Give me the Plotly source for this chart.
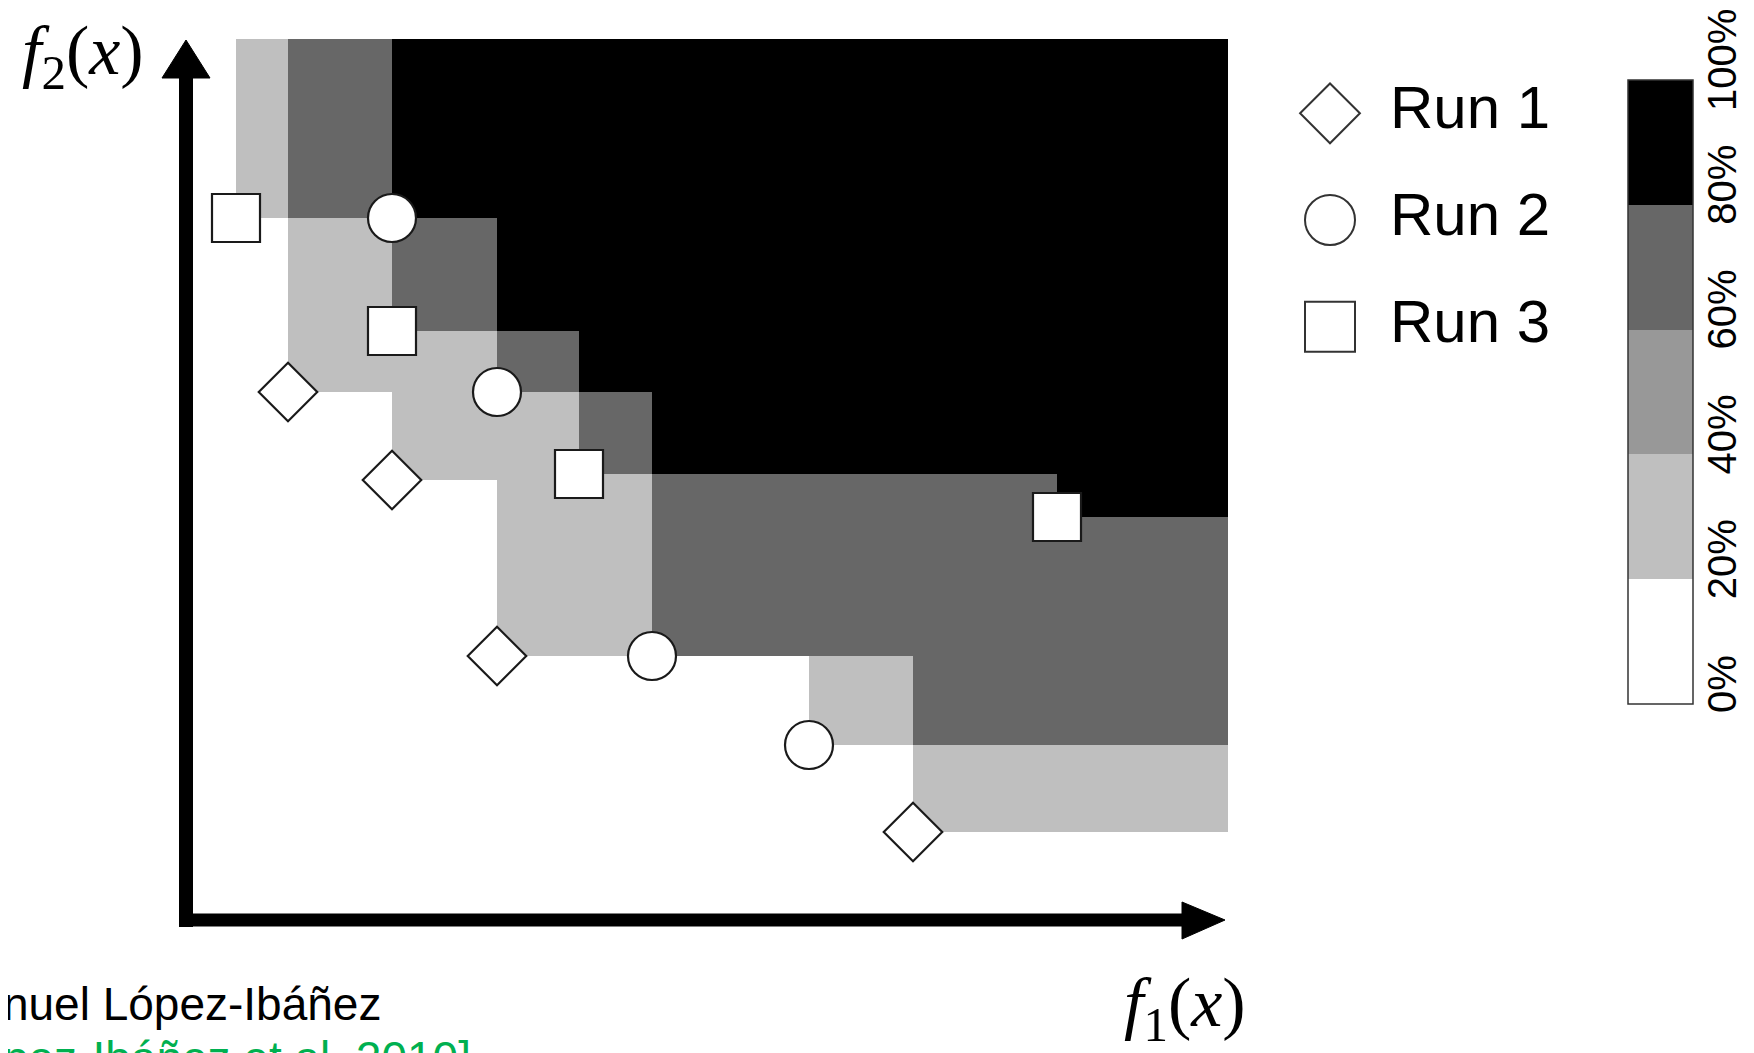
import plotly.graph_objects as go

# ---------------- data ----------------
run_names = ["Run 1", "Run 2", "Run 3"]
run_symbols = ["diamond", "circle", "square"]

run1_f1 = [1.01, 2.05, 3.10, 7.26]
run1_f2 = [5.29, 4.41, 2.65, 0.89]
run2_f1 = [2.05, 3.10, 4.65, 6.22]
run2_f2 = [7.03, 5.29, 2.65, 1.76]
run3_f1 = [0.49, 2.05, 3.92, 8.70]
run3_f2 = [7.03, 5.90, 4.47, 4.04]

ref_f1 = 10.41   # right end of the attainment region
ref_f2 = 8.82    # top end of the attainment region

cbar_vals = [0, 0.2, 0.4, 0.6, 0.8, 1.0]
cbar_text = ["0%", "20%", "40%", "60%", "80%", "100%"]
band_colors = ["#ffffff", "#bfbfbf", "#989898", "#676767", "#000000"]

runs_f1 = [run1_f1, run2_f1, run3_f1]
runs_f2 = [run1_f2, run2_f2, run3_f2]

# ---------------- empirical attainment function ----------------
x_edges = sorted(set(run1_f1 + run2_f1 + run3_f1)) + [ref_f1]
y_edges = sorted(set(run1_f2 + run2_f2 + run3_f2)) + [ref_f2]

z = []
for yi in y_edges[:-1]:
    row = []
    for xj in x_edges[:-1]:
        cnt = 0
        for f1s, f2s in zip(runs_f1, runs_f2):
            if any(a <= xj + 1e-9 and b <= yi + 1e-9 for a, b in zip(f1s, f2s)):
                cnt += 1
        row.append(cnt / len(runs_f1))
    z.append(row)

colorscale = []
n = len(band_colors)
for i, c in enumerate(band_colors):
    colorscale.append([i / n, c])
    colorscale.append([(i + 1) / n, c])

W, H = 1754, 1053
OFF = 8  # page body margin


def PX(sx):
    return (sx - OFF) / W


def PY(sy):
    return 1 - (sy - OFF) / H


# colorbar geometry (screen px)
CB_LEFT, CB_TOP, CB_BOTTOM, CB_THICK = 1628, 80, 704, 65
CB_LEN = CB_BOTTOM - CB_TOP

fig = go.Figure()

fig.add_trace(go.Heatmap(
    x=x_edges, y=y_edges, z=z, zmin=0, zmax=1,
    colorscale=colorscale, hoverinfo="skip",
    colorbar=dict(
        thickness=CB_THICK, thicknessmode="pixels",
        len=CB_LEN, lenmode="pixels",
        x=PX(CB_LEFT), xanchor="left",
        y=PY((CB_TOP + CB_BOTTOM) / 2), yanchor="middle",
        xpad=0, ypad=0,
        outlinewidth=1.5, outlinecolor="#333333",
        tickvals=cbar_vals, ticks="", showticklabels=False,
    ),
))

for name, sym, f1s, f2s in zip(run_names, run_symbols, runs_f1, runs_f2):
    size = 45 if sym == "diamond" else 48
    fig.add_trace(go.Scatter(
        x=f1s, y=f2s, mode="markers", name=name, cliponaxis=False,
        marker=dict(symbol=sym, size=size, color="white",
                    line=dict(color="#1a1a1a", width=2.2)),
        hoverinfo="skip", showlegend=False,
    ))

# custom legend (large symbols) on its own axes
legend_rows = list(range(len(run_names)))
for row, name, sym in zip(legend_rows, run_names, run_symbols):
    size = 46 if sym == "diamond" else 50
    fig.add_trace(go.Scatter(
        x=[80], y=[row], mode="markers", xaxis="x2", yaxis="y2",
        marker=dict(symbol=sym, size=size, color="white",
                    line=dict(color="#333333", width=2)),
        hoverinfo="skip", showlegend=False, cliponaxis=False,
    ))
fig.add_trace(go.Scatter(
    x=[140] * len(run_names), y=legend_rows, text=run_names, mode="text",
    textposition="middle right", xaxis="x2", yaxis="y2",
    textfont=dict(family="Liberation Sans", size=60, color="black"),
    hoverinfo="skip", showlegend=False, cliponaxis=False,
))

hidden = dict(visible=False, showgrid=False, zeroline=False, fixedrange=True)
fig.update_layout(
    width=W, height=H,
    margin=dict(l=0, r=0, t=0, b=0),
    paper_bgcolor="white", plot_bgcolor="rgba(0,0,0,0)",
    xaxis=dict(domain=[PX(187), PX(1230)], range=[0, 10.43], **hidden),
    yaxis=dict(domain=[PY(921), PY(39)], range=[0, 8.82], **hidden),
    xaxis2=dict(domain=[PX(1250), PX(1600)], range=[0, 350], anchor="y2", **hidden),
    yaxis2=dict(domain=[PY(380), PY(60)], range=[2.5, -0.5], anchor="x2", **hidden),
    showlegend=False,
)

# axis arrows
shapes = [
    dict(type="line", xref="paper", yref="paper", x0=PX(186), x1=PX(186),
         y0=PY(927), y1=PY(76), line=dict(color="black", width=14)),
    dict(type="path", xref="paper", yref="paper",
         path=f"M {PX(162)} {PY(78)} L {PX(210)} {PY(78)} L {PX(186)} {PY(40)} Z",
         fillcolor="black", line=dict(color="black", width=1)),
    dict(type="line", xref="paper", yref="paper", x0=PX(179), x1=PX(1184),
         y0=PY(920), y1=PY(920), line=dict(color="black", width=13)),
    dict(type="path", xref="paper", yref="paper",
         path=f"M {PX(1182)} {PY(902)} L {PX(1182)} {PY(939)} L {PX(1225)} {PY(920)} Z",
         fillcolor="black", line=dict(color="black", width=1)),
]
fig.update_layout(shapes=shapes)

annotations = [
    dict(text="<i>f</i><sub>2</sub>(<i>x</i>)", xref="paper", yref="paper",
         x=PX(20), y=PY(56), xanchor="left", yanchor="middle", showarrow=False,
         font=dict(family="Liberation Serif", size=70, color="black")),
    dict(text="<i>f</i><sub>1</sub>(<i>x</i>)", xref="paper", yref="paper",
         x=PX(1122), y=PY(1008), xanchor="left", yanchor="middle", showarrow=False,
         font=dict(family="Liberation Serif", size=70, color="black")),
    dict(text="Manuel López-Ibáñez", xref="paper", yref="paper",
         x=PX(-63), y=PY(1004), xanchor="left", yanchor="middle", showarrow=False,
         font=dict(family="Liberation Sans", size=46, color="black")),
    dict(text="[López-Ibáñez et al. 2010]", xref="paper", yref="paper",
         x=PX(-63), y=PY(1058), xanchor="left", yanchor="middle", showarrow=False,
         font=dict(family="Liberation Sans", size=46, color="#00b050")),
]
# colorbar tick labels (rotated, to the right of the bar)
for v, t in zip(cbar_vals, cbar_text):
    annotations.append(dict(
        text=t, xref="paper", yref="paper", textangle=-90,
        x=PX(1722), y=PY(CB_BOTTOM - v * CB_LEN - 20),
        xanchor="center", yanchor="middle", showarrow=False,
        font=dict(family="Liberation Sans", size=40, color="black")))
fig.update_layout(annotations=annotations)

fig.write_html("out.html")
